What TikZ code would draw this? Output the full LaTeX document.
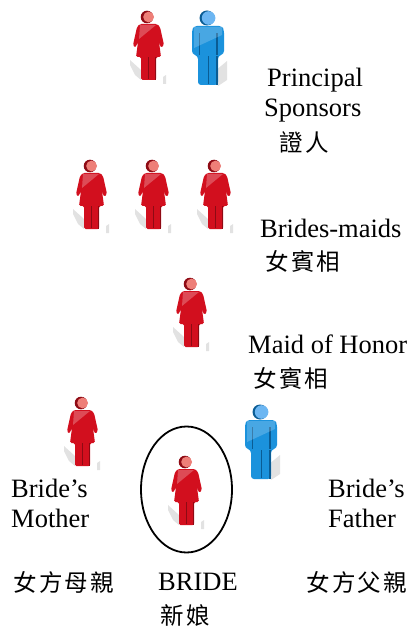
\documentclass[tikz,border=0pt]{standalone}
\usepackage{fontspec}
\usetikzlibrary{shapes.geometric}
\setmainfont{Liberation Serif}
\newfontfamily\cjk[LetterSpace=10]{Noto Sans CJK TC}
\definecolor{wred}{HTML}{D20F1E}
\definecolor{wdark}{HTML}{8E0A14}
\definecolor{whead}{HTML}{EE7F78}
\definecolor{mblue}{HTML}{1B92DC}
\definecolor{mdark}{HTML}{0A5C94}
\definecolor{mhead}{HTML}{6CB6F2}
\definecolor{shadowgray}{HTML}{E2E2E2}
\tikzset{
  namelabel/.style={anchor=base west,inner sep=0pt,font=\fontsize{26.5}{30}\selectfont},
  cjklabel/.style={anchor=west,inner sep=0pt,font=\fontsize{23.5}{27}\selectfont\cjk},
  woman/.pic={
    \fill[shadowgray] (-18,43) -- (-7,53) -- (-7,63) -- (-13,58) -- (-18,48) -- cycle;
    \fill[shadowgray] (15,60) -- (18,58) -- (18,67) -- (15,67) -- cycle;
    \fill[wdark] (-1,0) circle (6.3);
    \fill[whead] (0.6,0) circle (5.4);
    \fill[wred,rounded corners=1.5pt] (-8,7) -- (9,7) -- (12,10) -- (16,28) -- (13,31) -- (11,25)
      -- (13,40) -- (8,40) -- (8,63) -- (-7,63) -- (-7,40) -- (-12,40) -- (-10,25) -- (-13,31) -- (-15,28) -- (-11,10) -- cycle;
    \fill[wdark] (0,40) rectangle (1.2,62);
    \fill[wdark] (6.5,40) rectangle (8,63);
    \fill[white,opacity=.25] (-8,8) -- (8,8) -- (-9,22) -- cycle;
  },
  man/.pic={
    \fill[shadowgray] (7,53) -- (19,43) -- (19,62) -- (10,68) -- cycle;
    \fill[mdark] (-1,0) circle (7.5);
    \fill[mhead] (0.6,0) circle (6.8);
    \fill[mblue,rounded corners=3pt] (-14,8) -- (14,8) -- (16,12) -- (16,36) -- (10,38) -- (10,67) -- (-10,67) -- (-10,38) -- (-16,36) -- (-16,12) -- cycle;
    \fill[mdark] (-9,15) rectangle (-8,37);
    \fill[mdark] (8,15) rectangle (10,37);
    \fill[mdark] (0,38) rectangle (1.2,66);
    \fill[mdark] (7.5,38) rectangle (10,67);
    \fill[white,opacity=.2] (-14,9) -- (14,9) -- (14,17) -- (-14,30) -- cycle;
  }
}
\begin{document}
\begin{tikzpicture}[x=1pt,y=-1pt]
  \useasboundingbox (0,0) rectangle (410,628);
  % figures
  \pic at (148,17) {woman};
  \pic at (208,18) {man};
  \pic at (91,166) {woman};
  \pic at (153,166) {woman};
  \pic at (215,166) {woman};
  \pic at (191,284) {woman};
  \pic at (82,403) {woman};
  \pic at (261,412) {man};
  \pic at (186,462) {woman};
  % ring round the bride
  \node (ring) at (186.5,489.5) [draw,line width=1.8pt,ellipse,minimum width=91,minimum height=126,inner sep=0pt] {};
  % labels
  \node (principal) at (267,87) [namelabel] {Principal};
  \node (sponsors) at (264,117) [namelabel] {Sponsors};
  \node (witness) at (279,142) [cjklabel] {證人};
  \node (maids) at (260,237) [namelabel] {Brides-maids};
  \node (maidscjk) at (265,261) [cjklabel] {女賓相};
  \node (honor) at (248,353) [namelabel] {Maid of Honor};
  \node (honorcjk) at (253,378) [cjklabel] {女賓相};
  \node (mother) at (11,497) [namelabel] {Bride’s};
  \node (mothertwo) at (11,527) [namelabel] {Mother};
  \node (father) at (328,497) [namelabel] {Bride’s};
  \node (fathertwo) at (328,527) [namelabel] {Father};
  \node (mothercjk) at (13,582) [cjklabel] {女方母親};
  \node (bride) at (158,590) [namelabel] {BRIDE};
  \node (bridecjk) at (160,616) [cjklabel] {新娘};
  \node (fathercjk) at (306,582) [cjklabel] {女方父親};
\end{tikzpicture}
\end{document}
